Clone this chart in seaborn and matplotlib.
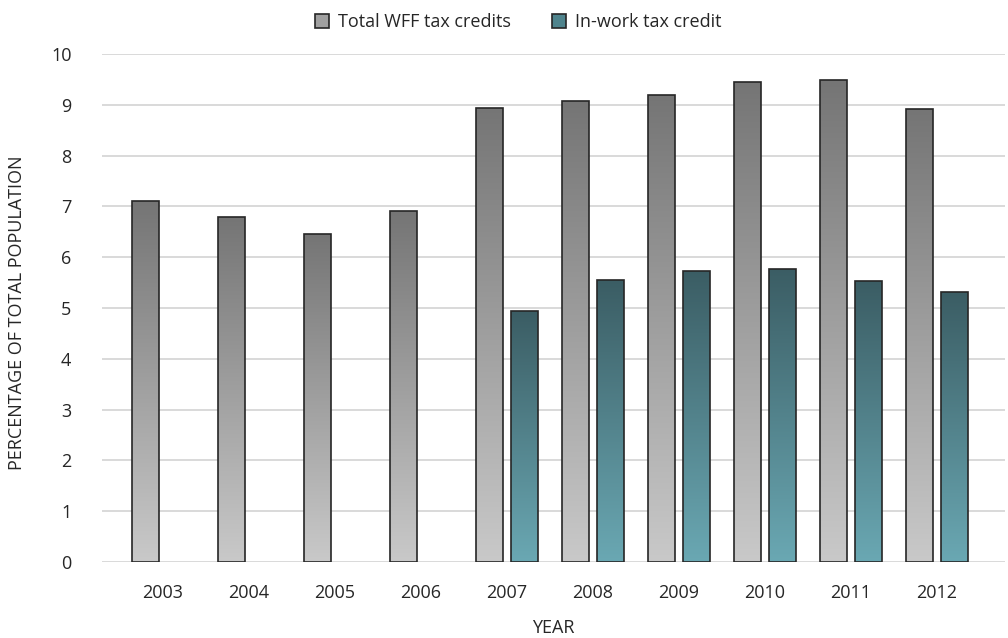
import numpy as np
import pandas as pd
import matplotlib
matplotlib.use("Agg")
import matplotlib.pyplot as plt
from matplotlib.colors import LinearSegmentedColormap
from matplotlib.patches import Patch
import seaborn as sns

years = ["2003", "2004", "2005", "2006", "2007", "2008", "2009", "2010", "2011", "2012"]
total_wff = [7.10, 6.79, 6.46, 6.90, 8.94, 9.07, 9.20, 9.45, 9.48, 8.91]
in_work = [np.nan, np.nan, np.nan, np.nan, 4.94, 5.55, 5.73, 5.77, 5.53, 5.31]
series_names = ["Total WFF tax credits", "In-work tax credit"]

df = pd.DataFrame({
    "year": years * 2,
    "value": total_wff + in_work,
    "series": [series_names[0]] * len(years) + [series_names[1]] * len(years),
})

sns.set_theme(style="white")
plt.rcParams["font.family"] = ["Open Sans", "DejaVu Sans"]

# gradients: dark at the top of each bar, light at the base
grads = {
    series_names[0]: LinearSegmentedColormap.from_list("g", ["#c9c9c9", "#757575"]),
    series_names[1]: LinearSegmentedColormap.from_list("t", ["#6aa8b3", "#3b5d64"]),
}

fig = plt.figure(figsize=(10.08, 6.38), dpi=100)
ax = fig.add_axes([102 / 1008, 76 / 638, 903 / 1008, 508 / 638])

sns.barplot(data=df, x="year", y="value", hue="series", hue_order=series_names,
            order=years, ax=ax, width=0.8, gap=0.22, legend=False,
            edgecolor="#262626", linewidth=1.2, saturation=1)

ax.set_xlim(-0.709, 9.79)
ax.set_ylim(0, 10)

grad_img = np.linspace(0, 1, 256).reshape(-1, 1)
bars = [p for p in ax.patches]
for p in bars:
    x, w, h = p.get_x(), p.get_width(), p.get_height()
    if not np.isfinite(h) or h <= 0:
        continue
    cx = x + w / 2
    # pick the series by offset from the category centre
    idx = int(round(cx))
    name = series_names[0] if cx < idx else series_names[1]
    p.set_facecolor("none")
    im = ax.imshow(grad_img, cmap=grads[name], origin="lower", aspect="auto",
                   extent=[x, x + w, 0, h], zorder=p.get_zorder() - 0.05)
    im.set_clip_path(p)

ax.set_xlim(-0.709, 9.79)
ax.set_ylim(0, 10)

ax.set_yticks(range(0, 11))
ax.yaxis.grid(True, color="#d9d9d9", linewidth=1.4)
ax.set_axisbelow(True)
for s in ax.spines.values():
    s.set_visible(False)
ax.tick_params(axis="both", length=0, labelsize=13, labelcolor="#262626")
ax.tick_params(axis="y", pad=22)
ax.tick_params(axis="x", pad=16)

ax.set_xlabel("YEAR", fontsize=13, color="#262626", labelpad=12)
ax.set_ylabel("PERCENTAGE OF TOTAL POPULATION", fontsize=13, color="#262626", labelpad=22)
ax.yaxis.set_label_coords(-76 / 903, 0.49)

handles = [Patch(facecolor="#a0a0a0", edgecolor="#262626", linewidth=1.2),
           Patch(facecolor="#4f848d", edgecolor="#262626", linewidth=1.2)]
fig.legend(handles, series_names, loc="center", bbox_to_anchor=(518 / 1008, 1 - 22 / 638),
           ncol=2, frameon=False, fontsize=13, handlelength=0.8, handleheight=0.8,
           handletextpad=0.45, columnspacing=2.3, labelcolor="#262626")

fig.savefig("out.png", dpi=100)
